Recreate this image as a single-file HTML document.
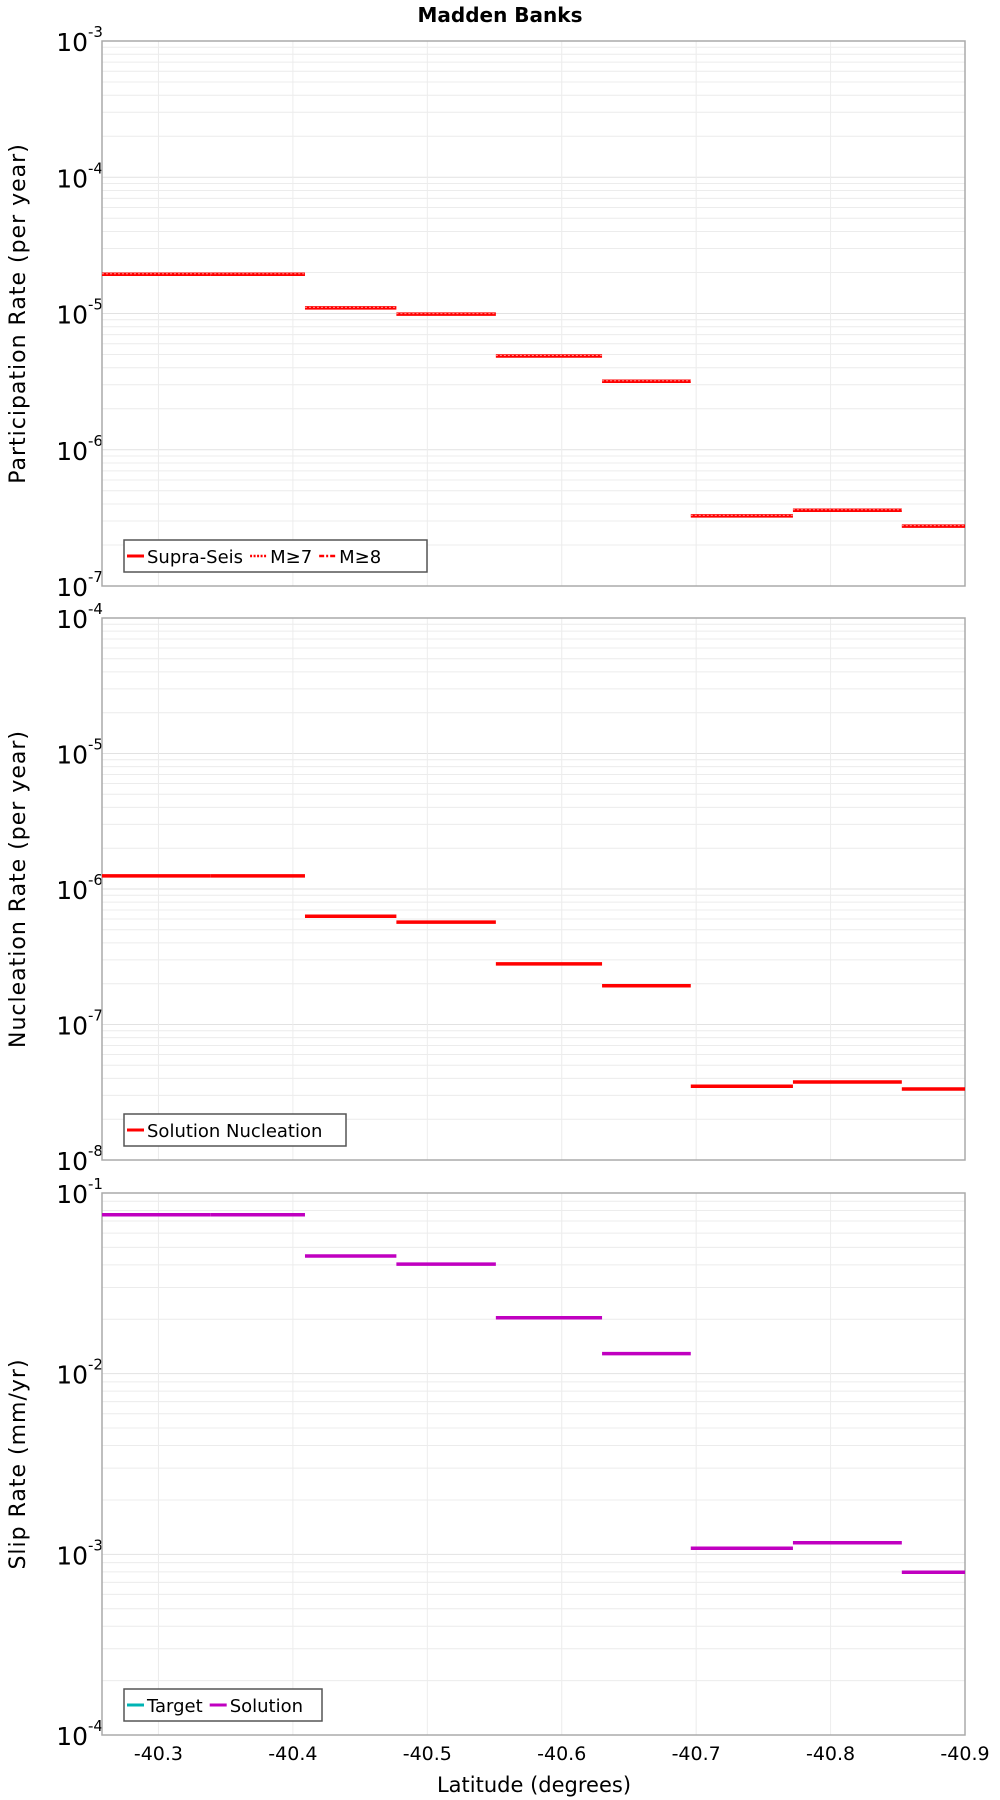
<!DOCTYPE html>
<html><head><meta charset="utf-8"><style>
html,body{margin:0;padding:0;background:#fff;}
svg{display:block;font-family:"DejaVu Sans","Liberation Sans",sans-serif;}
</style></head><body>
<svg id="chart" width="1000" height="1800" viewBox="0 0 1000 1800" xmlns="http://www.w3.org/2000/svg">
<text x="500" y="22" text-anchor="middle" font-size="20" font-weight="bold">Madden Banks</text>
<text x="534" y="1792" text-anchor="middle" font-size="21">Latitude (degrees)</text>
</svg>
<script>
const latBounds = [-40.258, -40.3385, -40.409, -40.477, -40.551, -40.630, -40.696, -40.772, -40.853, -40.9];
const xTicks = [-40.3, -40.4, -40.5, -40.6, -40.7, -40.8, -40.9];
const xTickLabels = ["-40.3", "-40.4", "-40.5", "-40.6", "-40.7", "-40.8", "-40.9"];
const participationRates = [1.94e-5, 1.94e-5, 1.10e-5, 9.9e-6, 4.88e-6, 3.18e-6, 3.27e-7, 3.6e-7, 2.75e-7];
const nucleationRates = [1.25e-6, 1.25e-6, 6.3e-7, 5.7e-7, 2.8e-7, 1.93e-7, 3.5e-8, 3.76e-8, 3.34e-8];
const slipRates = [0.0758, 0.0758, 0.0448, 0.0404, 0.0204, 0.0129, 1.08e-3, 1.16e-3, 7.96e-4];

const NS = "http://www.w3.org/2000/svg";
const svg = document.getElementById('chart');
const L = 102, R = 965;
const xMin = -40.258, xMax = -40.9;
function xs(v){ return L + (v - xMin) / (xMax - xMin) * (R - L); }
function mk(tag, attrs, parent){
  const e = document.createElementNS(NS, tag);
  for (const k in attrs) e.setAttribute(k, attrs[k]);
  (parent || svg).appendChild(e);
  return e;
}

const panels = [
  {name:'participation', top:41, bot:586, eMin:-7, eMax:-3, title:'Participation Rate (per year)', data:participationRates, color:'#ff0000',
   legend:{w:303, items:[['Supra-Seis','solid'],['M\u22657','dot'],['M\u22658','dashdot']]}},
  {name:'nucleation', top:618, bot:1160, eMin:-8, eMax:-4, title:'Nucleation Rate (per year)', data:nucleationRates, color:'#ff0000',
   legend:{w:222, items:[['Solution Nucleation','solid']]}},
  {name:'slip', top:1193, bot:1735, eMin:-4, eMax:-1, title:'Slip Rate (mm/yr)', data:slipRates, color:'#c000c0',
   legend:{w:198, items:[['Target','solid','#00b4b4'],['Solution','solid','#c000c0']]}}
];

panels.forEach(p => {
  const g = mk('g', {});
  
  
  function ys(v){ return p.bot - (Math.log10(v) - p.eMin) / (p.eMax - p.eMin) * (p.bot - p.top); }
  for (let e = p.eMin; e < p.eMax; e++) {
    for (let m = 2; m <= 9; m++) {
      const y = ys(m * Math.pow(10, e));
      const ln = mk('line', {x1:L, x2:R, y1:y, y2:y, stroke:'#ececec', 'stroke-width':1}, g);
      
      
    }
  }
  for (let e = p.eMin; e <= p.eMax; e++) {
    const y = ys(Math.pow(10, e));
    const ln = mk('line', {x1:L, x2:R, y1:y, y2:y, stroke:'#e2e2e2', 'stroke-width':1}, g);
    
    
    const t = mk('text', {x:L-14, y:y+10, 'text-anchor':'end', 'font-size':25}, g);
    
    
    t.textContent = '10';
    const s = mk('text', {x:L-14, y:y-4, 'text-anchor':'start', 'font-size':15}, g);
    
    
    s.textContent = String(e);
  }
  xTicks.forEach((v, i) => {
    const x = xs(v);
    const ln = mk('line', {x1:x, x2:x, y1:p.top, y2:p.bot, stroke:'#ececec', 'stroke-width':1}, g);
    
    
  });
  const fr = mk('rect', {x:L, y:p.top, width:R-L, height:p.bot-p.top, fill:'none', stroke:'#aaaaaa', 'stroke-width':1.5}, g);
  
  
  p.data.forEach((v, i) => {
    const y = ys(v);
    const ln = mk('line', {x1:xs(latBounds[i]), x2:xs(latBounds[i+1]), y1:y, y2:y, stroke:p.color, 'stroke-width':3.5}, g);
    
    
    if (p.name === 'participation') {
      const d = mk('line', {x1:xs(latBounds[i]), x2:xs(latBounds[i+1]), y1:y-0.5, y2:y-0.5, stroke:'#ff9090', 'stroke-width':1, 'stroke-dasharray':'2 2'}, g);
      
      
    }
  });
  const cy = (p.top + p.bot) / 2;
  const yt = mk('text', {x:0, y:0, transform:'translate(25,' + cy + ') rotate(-90)', 'text-anchor':'middle', 'font-size':22, 'letter-spacing':1}, g);
  
  
  yt.textContent = p.title;
  const lg = mk('g', {}, g);
  
  
  const ly = p.bot - 46;
  const br = mk('rect', {x:124, y:ly, width:p.legend.w, height:32, fill:'#fff', stroke:'#555', 'stroke-width':1.5}, lg);
  
  
  let cx = 127;
  p.legend.items.forEach(it => {
    const col = it[2] || p.color;
    const dash = it[1] === 'dot' ? '2 1.5' : (it[1] === 'dashdot' ? '5 2 2 2' : null);
    const sw = mk('line', {x1:cx, x2:cx+17, y1:ly+16, y2:ly+16, stroke:col, 'stroke-width':it[1]==='solid'?3:2.5}, lg);
    if (dash) sw.setAttribute('stroke-dasharray', dash);
    
    
    const t = mk('text', {x:cx+20, y:ly+23, 'font-size':18}, lg);
    
    
    t.textContent = it[0];
    cx += 20 + t.getComputedTextLength() + 7;
  });
});
xTicks.forEach((v, i) => {
  const t = mk('text', {x:xs(v), y:1760, 'text-anchor':'middle', 'font-size':19});
  
  
  t.textContent = xTickLabels[i];
});
</script>
</body></html>
